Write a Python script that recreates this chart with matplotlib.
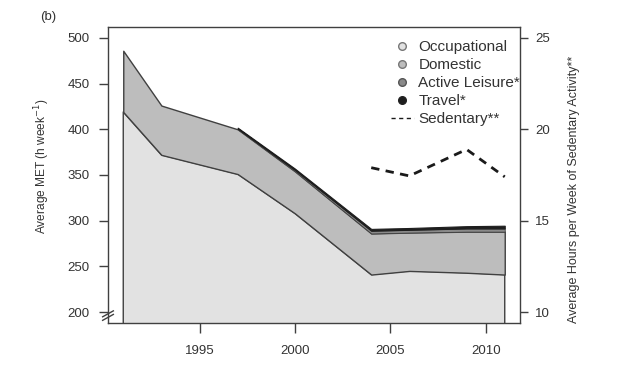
import matplotlib
matplotlib.use("Agg")
import matplotlib.pyplot as plt
import numpy as np
from matplotlib.lines import Line2D

plt.rcParams['font.family'] = ['Liberation Sans', 'DejaVu Sans']

years = [1991, 1993, 1997, 2000, 2004, 2006, 2009, 2011]
occupational = [419, 372, 351, 308, 241, 245, 243, 241]
domestic = [67, 54, 49, 46, 45, 42, 45, 47]
active_leisure = [np.nan, np.nan, 0.8, 1.5, 3.0, 3.0, 3.5, 3.5]
travel = [np.nan, np.nan, 1.0, 1.5, 2.0, 2.0, 2.5, 3.0]

sed_years = [2004, 2006, 2009, 2011]
sedentary = [17.9, 17.45, 18.9, 17.4]

x_ticks = [1995, 2000, 2005, 2010]
left_ticks = [200, 250, 300, 350, 400, 450, 500]
right_ticks = [10, 15, 20, 25]

col_occ = '#e2e2e2'
col_dom = '#bdbdbd'
col_act = '#8a8a8a'
col_trv = '#1e1e1e'
edge = '#404040'
txt = '#333333'

fig = plt.figure(figsize=(6.4, 3.75), dpi=100)
ax = fig.add_axes([108/640, 1-323/375, (520-108)/640, (323-27)/375])

x = np.array(years, dtype=float)
occ = np.array(occupational, dtype=float)
dom_top = occ + np.array(domestic, dtype=float)
act = np.array(active_leisure, dtype=float)
trv = np.array(travel, dtype=float)
mask = ~np.isnan(act)
act_top = dom_top + np.nan_to_num(act)
trv_top = act_top + np.nan_to_num(trv)

ax.fill_between(x, 0, occ, facecolor=col_occ, edgecolor=edge, linewidth=1.0, zorder=2)
ax.fill_between(x, occ, dom_top, facecolor=col_dom, edgecolor=edge, linewidth=1.0, zorder=2)
ax.fill_between(x[mask], dom_top[mask], act_top[mask], facecolor=col_act, edgecolor=edge, linewidth=0.6, zorder=3)
ax.fill_between(x[mask], act_top[mask], trv_top[mask], facecolor=col_trv, edgecolor=col_trv, linewidth=0.8, zorder=3)

ax.set_xlim(1990.2, 2011.8)
ax.set_ylim(188, 512)
ax.set_xticks(x_ticks)
ax.set_yticks(left_ticks)
ax.tick_params(axis='both', colors=edge, labelcolor=txt, labelsize=9.5, width=1.0)
ax.tick_params(axis='x', length=7.5, pad=8.5)
ax.tick_params(axis='y', length=6.3, pad=7)
for s in ax.spines.values():
    s.set_color(edge)
    s.set_linewidth(1.0)
ax.set_ylabel('Average MET (h week$^{-1}$)', fontsize=8.6, color=txt)
ax.yaxis.set_label_coords(-0.136, 0.53)

ax2 = ax.twinx()
ax2.set_ylim(9.4, 25.6)
ax2.set_yticks(right_ticks)
ax2.plot(sed_years, sedentary, color='#1a1a1a', linewidth=2.0, linestyle=(0, (3, 2.3)), zorder=5)
ax2.tick_params(axis='y', colors=edge, labelcolor=txt, labelsize=9.5, length=6, pad=5, width=1.0)
for s in ax2.spines.values():
    s.set_visible(False)
ax2.set_ylabel('Average Hours per Week of Sedentary Activity**', fontsize=9, color=txt)
ax2.yaxis.set_label_coords(1.116, 0.45)

# axis break marks on left axis near 200
for dy in (-0.006, 0.006):
    ax.plot([-0.013, 0.013], [0.025 + dy - 0.01, 0.025 + dy + 0.01], transform=ax.transAxes,
            color=edge, linewidth=1.0, clip_on=False, zorder=6)

handles = [
    Line2D([], [], marker='o', linestyle='none', markerfacecolor=col_occ, markeredgecolor='#777777', markersize=5.5),
    Line2D([], [], marker='o', linestyle='none', markerfacecolor=col_dom, markeredgecolor='#777777', markersize=5.5),
    Line2D([], [], marker='o', linestyle='none', markerfacecolor=col_act, markeredgecolor='#555555', markersize=5.5),
    Line2D([], [], marker='o', linestyle='none', markerfacecolor=col_trv, markeredgecolor='#222222', markersize=5.5),
    Line2D([], [], color='#1a1a1a', linewidth=1.0, linestyle=(0, (3, 2.5))),
]
labels = ['Occupational', 'Domestic', 'Active Leisure*', 'Travel*', 'Sedentary**']
leg = ax2.legend(handles, labels, loc='upper left', bbox_to_anchor=(391/640, 1-40/375),
                 bbox_transform=fig.transFigure, frameon=False, fontsize=11,
                 handlelength=1.5, handletextpad=0.3, labelspacing=0.27, borderpad=0, borderaxespad=0)
for t in leg.get_texts():
    t.set_color(txt)

fig.text(48/640, 1-17/375, '(b)', fontsize=9.5, color=txt, ha='center', va='center')

fig.savefig('out.png', dpi=100)
